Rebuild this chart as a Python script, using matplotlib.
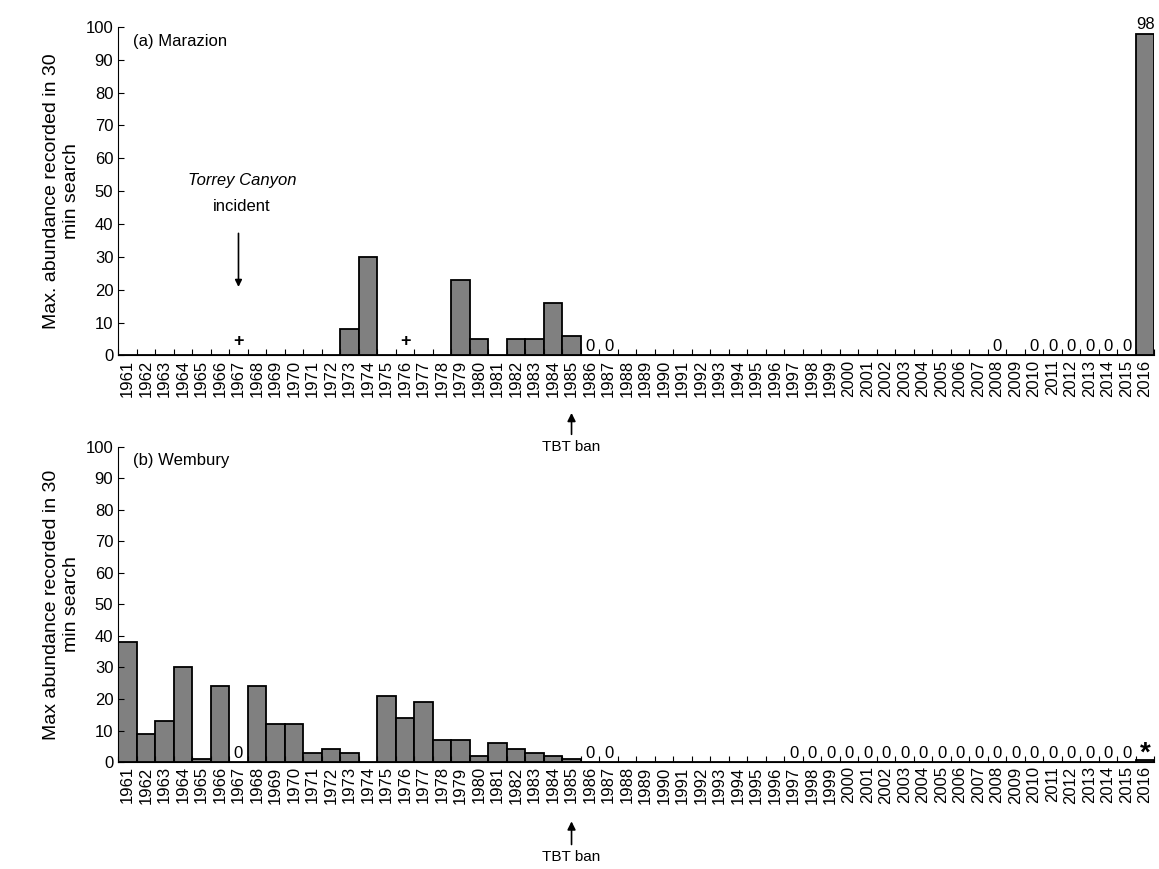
import numpy as np
import matplotlib.pyplot as plt
from matplotlib.patches import FancyArrowPatch

years = list(range(1961, 2017))

# Marazion bars (missing years = no bar)
marazion = {1973: 8, 1974: 30, 1979: 23, 1980: 5, 1982: 5, 1983: 5, 1984: 16, 1985: 6, 2016: 98}
marazion_labels = {1967: "+", 1976: "+", 1986: "0", 1987: "0", 2008: "0", 2010: "0", 2011: "0",
                   2012: "0", 2013: "0", 2014: "0", 2015: "0", 2016: "98"}

wembury = {1961: 38, 1962: 9, 1963: 13, 1964: 30, 1965: 1, 1966: 24, 1968: 24, 1969: 12, 1970: 12,
           1971: 3, 1972: 4, 1973: 3, 1975: 21, 1976: 14, 1977: 19, 1978: 7, 1979: 7, 1980: 2,
           1981: 6, 1982: 4, 1983: 3, 1984: 2, 1985: 1, 2016: 0.6}
wembury_labels = {1967: "0", 1986: "0", 1987: "0", 2016: "*"}
for y in range(1997, 2016):
    wembury_labels[y] = "0"

plt.rcParams['font.family'] = ['Liberation Sans', 'DejaVu Sans']
fig = plt.figure(figsize=(11.59, 8.69), dpi=100)
ax1 = fig.add_axes([0.102, 0.591, 0.894, 0.378])
ax2 = fig.add_axes([0.102, 0.123, 0.894, 0.363])

def panel(ax, data, labels, title, ylabel):
    x = np.arange(len(years))
    ys = [data.get(y, 0) for y in years]
    ax.bar(x, ys, width=1.0, color="#808080", edgecolor="black", linewidth=1.3)
    for y, t in labels.items():
        i = years.index(y)
        h = data.get(y, 0)
        if t == "+":
            ax.text(i, 1.5, t, ha="center", va="bottom", fontsize=13, fontweight="bold")
        elif t == "*":
            ax.text(i, h - 2, t, ha="center", va="bottom", fontsize=20, fontweight="bold")
        else:
            ax.text(i, h + 0.5, t, ha="center", va="bottom", fontsize=12)
    ax.set_xlim(-0.5, len(years) - 0.5)
    ax.set_ylim(0, 100)
    ax.set_yticks(range(0, 101, 10))
    ax.set_xticks(np.arange(len(years) + 1) - 0.5)
    ax.set_xticklabels([])
    ax.set_xticks(x, minor=True)
    ax.set_xticklabels([str(y) for y in years], minor=True, rotation=90, fontsize=12)
    ax.tick_params(axis="x", which="minor", length=0, pad=3)
    ax.tick_params(axis="x", which="major", direction="in", length=4)
    ax.tick_params(axis="y", direction="in", length=4, labelsize=12)
    ax.spines["top"].set_visible(False)
    ax.spines["right"].set_visible(False)
    ax.text(0.3, 98, title, fontsize=12, va="top")
    ax.set_ylabel(ylabel, fontsize=14)

panel(ax1, marazion, marazion_labels, "(a) Marazion", "Max. abundance recorded in 30\nmin search")
panel(ax2, wembury, wembury_labels, "(b) Wembury", "Max abundance recorded in 30\nmin search")

i67 = years.index(1967)
ax1.text(i67 + 0.2, 51, "Torrey Canyon", style="italic", ha="center", va="bottom", fontsize=12)
ax1.text(i67 + 0.2, 43, "incident", ha="center", va="bottom", fontsize=12)
ax1.annotate("", xy=(i67, 20), xytext=(i67, 38),
             arrowprops=dict(arrowstyle="-|>", color="black", lw=1.2))

i85 = years.index(1985)
for ax, ytext, ytop in ((ax1, 0.486, 0.528), (ax2, 0.014, 0.058)):
    xf = ax.transData.transform((i85, 0))[0] / fig.bbox.width
    fig.text(xf, ytext, "TBT ban", ha="center", va="center", fontsize=11)
    fig.patches.append(FancyArrowPatch((xf, ytext + 0.011), (xf, ytop), transform=fig.transFigure,
                                       arrowstyle="-|>", mutation_scale=12, color="black", lw=1.2))

fig.savefig("out.png", dpi=100)
